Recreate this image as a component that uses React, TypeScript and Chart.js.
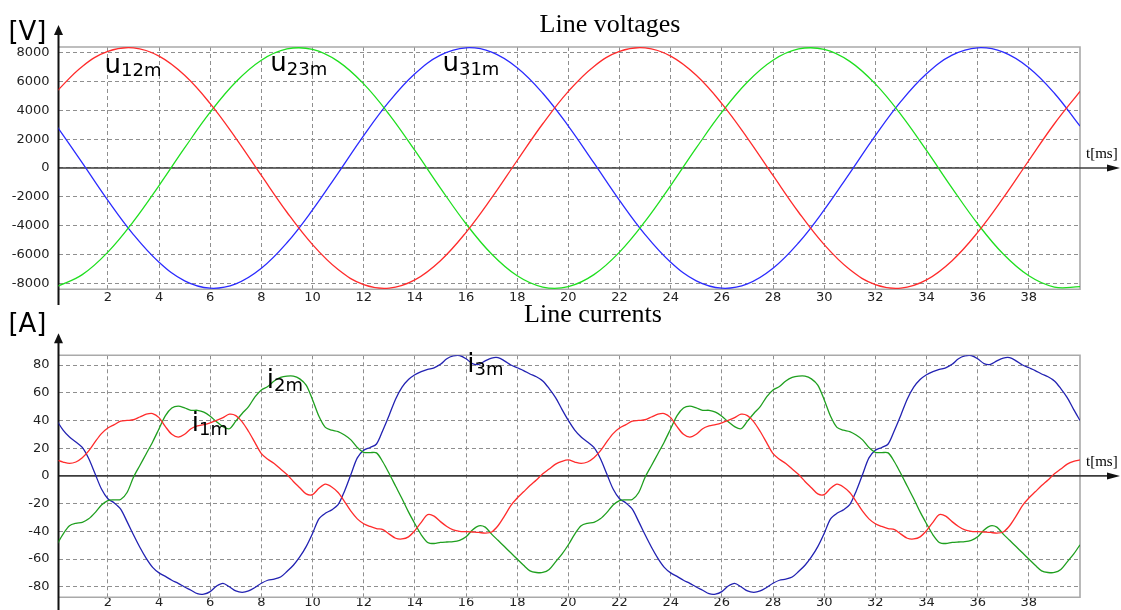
import React, { useEffect, useRef } from "react";
import { Chart, registerables } from "chart.js";

Chart.register(...registerables);

// ---------- data ----------
const T_MIN = 0.07;
const T_MAX = 40;

const voltTimes = [0, 1, 2, 3, 4, 5, 6, 7, 8, 9, 10, 11, 12, 13, 14, 15, 16, 17, 18, 19, 20,
  21, 22, 23, 24, 25, 26, 27, 28, 29, 30, 31, 32, 33, 34, 35, 36, 37, 38, 39, 40];

const u12m = [5320, 7050, 8090, 8330, 7760, 6430, 4470, 2080, -520, -3070,
  -5320, -7050, -8090, -8330, -7760, -6430, -4470, -2080, 520, 3070,
  5320, 7050, 8090, 8330, 7760, 6430, 4470, 2080, -520, -3070,
  -5320, -7050, -8090, -8330, -7760, -6430, -4470, -2080, 520, 3070,
  5320];

const u23m = [-8230, -7400, -5840, -3710, -1220, 1390, 3870, 5970, 7480, 8260,
  8230, 7400, 5840, 3710, 1220, -1390, -3870, -5970, -7480, -8260,
  -8230, -7400, -5840, -3710, -1220, 1390, 3870, 5970, 7480, 8260,
  8230, 7400, 5840, 3710, 1220, -1390, -3870, -5970, -7480, -8260,
  -8230];

const u31m = [2910, 350, -2250, -4620, -6540, -7830, -8340, -8040, -6960, -5190,
  -2910, -350, 2250, 4620, 6540, 7830, 8340, 8040, 6960, 5190,
  2910, 350, -2250, -4620, -6540, -7830, -8340, -8040, -6960, -5190,
  -2910, -350, 2250, 4620, 6540, 7830, 8340, 8040, 6960, 5190,
  2910];

const CUR_STEP = 0.25; // sampling step of the current records [ms]

const i1m = [
  11.5, 10, 9, 10, 13, 18, 24.5, 30.5,
  34.5, 37, 39.5, 40, 40.5, 42.5, 44.5, 45,
  42, 35.5, 30, 28, 30, 34, 36, 37,
  38.3, 40, 42, 44.5, 43.5, 39, 32, 24,
  16, 12, 9, 5, 1, -4, -8.5, -13,
  -13.5, -9, -6, -8, -12, -18.5, -25.5, -31,
  -34.5, -36.5, -38, -38.8, -42, -45, -45.5, -44,
  -39.5, -33.5, -28, -29, -33, -36.5, -39, -40,
  -40.2, -40.5, -40.8, -41.3, -40.5, -36, -29, -21.5,
  -16, -11.5, -7, -3, 1.5, 5, 8.5, 10.5,
  11.5, 10, 9, 10, 13, 18, 24.5, 30.5,
  34.5, 37, 39.5, 40, 40.5, 42.5, 44.5, 45,
  42, 35.5, 30, 28, 30, 34, 36, 37,
  38.3, 40, 42, 44.5, 43.5, 39, 32, 24,
  16, 12, 9, 5, 1, -4, -8.5, -13,
  -13.5, -9, -6, -8, -12, -18.5, -25.5, -31,
  -34.5, -36.5, -38, -38.8, -42, -45, -45.5, -44,
  -39.5, -33.5, -28, -29, -33, -36.5, -39, -40,
  -40.2, -40.5, -40.8, -41.3, -40.5, -36, -29, -21.5,
  -16, -11.5, -7, -3, 1.5, 5, 8.5, 10.5,
  11.5];

const i2m = [
  -49.7, -42, -36, -34.2, -33.5, -31, -26.5, -21,
  -17.8, -17.3, -17, -12, -1, 7.5, 16, 24.5,
  34, 43.5, 49, 50.3, 49, 47.3, 47.3, 46,
  43, 39, 35.5, 34, 39.5, 45, 50, 57,
  62, 64.5, 68.5, 71, 72, 72, 70, 65.5,
  55, 43, 35, 33, 32, 29.5, 26, 20.5,
  17, 16.8, 16.6, 10, 1.5, -7.5, -16.5, -26,
  -34.5, -42.5, -48, -48.8, -48, -47.7, -47.5, -46.5,
  -44, -39, -36, -37, -42, -46.5, -51, -55.5,
  -60, -64.5, -68.5, -69.7, -69.7, -67.5, -62, -56.5,
  -49.7, -42, -36, -34.2, -33.5, -31, -26.5, -21,
  -17.8, -17.3, -17, -12, -1, 7.5, 16, 24.5,
  34, 43.5, 49, 50.3, 49, 47.3, 47.3, 46,
  43, 39, 35.5, 34, 39.5, 45, 50, 57,
  62, 64.5, 68.5, 71, 72, 72, 70, 65.5,
  55, 43, 35, 33, 32, 29.5, 26, 20.5,
  17, 16.8, 16.6, 10, 1.5, -7.5, -16.5, -26,
  -34.5, -42.5, -48, -48.8, -48, -47.7, -47.5, -46.5,
  -44, -39, -36, -37, -42, -46.5, -51, -55.5,
  -60, -64.5, -68.5, -69.7, -69.7, -67.5, -62, -56.5,
  -49.7];

const i3m = [
  40, 33, 28, 24.5, 20.5, 12.5, 1.5, -9.5,
  -16.5, -19.5, -24, -33, -42.5, -51.5, -59.5, -66,
  -70, -72.5, -75.3, -77.5, -80.2, -82.5, -85, -85.3,
  -83.5, -79.5, -77.5, -80, -83, -84, -83, -80.5,
  -77.5, -75.3, -74.5, -73, -69, -64.5, -58.5, -51,
  -41.5, -31, -27, -24.5, -20.8, -11, 1, 13,
  18.5, 20.5, 23, 33, 44, 55.5, 64, 69.5,
  73, 75.2, 76.8, 78, 80.5, 84.5, 86.5, 86.8,
  84.5, 81, 80.5, 83, 85, 85.3, 83, 80,
  78, 76, 73.5, 71.5, 68.5, 63, 56.5, 48,
  40, 33, 28, 24.5, 20.5, 12.5, 1.5, -9.5,
  -16.5, -19.5, -24, -33, -42.5, -51.5, -59.5, -66,
  -70, -72.5, -75.3, -77.5, -80.2, -82.5, -85, -85.3,
  -83.5, -79.5, -77.5, -80, -83, -84, -83, -80.5,
  -77.5, -75.3, -74.5, -73, -69, -64.5, -58.5, -51,
  -41.5, -31, -27, -24.5, -20.8, -11, 1, 13,
  18.5, 20.5, 23, 33, 44, 55.5, 64, 69.5,
  73, 75.2, 76.8, 78, 80.5, 84.5, 86.5, 86.8,
  84.5, 81, 80.5, 83, 85, 85.3, 83, 80,
  78, 76, 73.5, 71.5, 68.5, 63, 56.5, 48,
  40];

const curTimes = i1m.map((_, k) => k * CUR_STEP);

const timeTicks = [2, 4, 6, 8, 10, 12, 14, 16, 18, 20, 22, 24, 26, 28, 30, 32, 34, 36, 38];
const voltTicks = [-8000, -6000, -4000, -2000, 0, 2000, 4000, 6000, 8000];
const currentTicks = [-80, -60, -40, -20, 0, 20, 40, 60, 80];

const voltLabels = [
  { main: "u", sub: "12m", t: 1.87, v: 6610 },
  { main: "u", sub: "23m", t: 8.35, v: 6730 },
  { main: "u", sub: "31m", t: 15.08, v: 6730 },
];
const currentLabels = [
  { main: "i", sub: "1m", t: 5.28, v: 32.2 },
  { main: "i", sub: "2m", t: 8.21, v: 63.7 },
  { main: "i", sub: "3m", t: 16.05, v: 75 },
];

// ---------- plugin ----------
const SANS = '"DejaVu Sans", Verdana, sans-serif';
const SERIF = '"Liberation Serif", "Times New Roman", serif';

const decorPlugin = {
  id: "decor",
  beforeDatasetsDraw(chart: any, _a: any, o: any) {
    const { ctx, chartArea: a, scales } = chart;
    const y0 = scales.y.getPixelForValue(0);
    ctx.save();
    // frame (top, right, bottom)
    ctx.strokeStyle = "#a9a9a9";
    ctx.lineWidth = 1.6;
    ctx.beginPath();
    ctx.moveTo(a.left, a.top);
    ctx.lineTo(a.right, a.top);
    ctx.lineTo(a.right, a.bottom);
    ctx.lineTo(a.left, a.bottom);
    ctx.stroke();
    // horizontal axis with arrow
    ctx.strokeStyle = "#3c3c3c";
    ctx.lineWidth = 1.7;
    ctx.beginPath();
    ctx.moveTo(a.left, y0);
    ctx.lineTo(chart.width - 8, y0);
    ctx.stroke();
    ctx.fillStyle = "#111";
    ctx.beginPath();
    ctx.moveTo(chart.width - 1, y0);
    ctx.lineTo(chart.width - 14, y0 - 3.5);
    ctx.lineTo(chart.width - 14, y0 + 3.5);
    ctx.closePath();
    ctx.fill();
    // vertical axis with arrow
    const tip = a.top - 22;
    ctx.strokeStyle = "#111";
    ctx.lineWidth = 2;
    ctx.beginPath();
    ctx.moveTo(a.left, tip + 6);
    ctx.lineTo(a.left, chart.height);
    ctx.stroke();
    ctx.beginPath();
    ctx.moveTo(a.left, tip);
    ctx.lineTo(a.left - 4.5, tip + 10);
    ctx.lineTo(a.left + 4.5, tip + 10);
    ctx.closePath();
    ctx.fill();
    ctx.restore();
  },
  afterDatasetsDraw(chart: any, _a: any, o: any) {
    const { ctx, chartArea: a, scales } = chart;
    const y0 = scales.y.getPixelForValue(0);
    ctx.save();
    ctx.fillStyle = "#000";
    ctx.textBaseline = "alphabetic";
    // title
    ctx.font = `26px ${SERIF}`;
    ctx.textAlign = "center";
    ctx.fillText(o.title, o.titleX, o.titleY);
    // unit
    ctx.textAlign = "left";
    ctx.font = `26px ${SANS}`;
    ctx.fillText(o.unit, 8.4, o.unitY);
    // t[ms]
    ctx.font = `15px ${SERIF}`;
    ctx.fillText("t[ms]", a.right + 6, y0 - 10);
    // series labels
    for (const l of o.labels) {
      const x = scales.x.getPixelForValue(l.t);
      const y = scales.y.getPixelForValue(l.v);
      ctx.font = `26px ${SANS}`;
      ctx.fillText(l.main, x, y);
      const w = ctx.measureText(l.main).width;
      ctx.font = `18px ${SANS}`;
      ctx.fillText(l.sub, x + w, y + 3.5);
    }
    ctx.restore();
  },
};

function makeConfig(p: any) {
  const tickFont = { family: SANS, size: 13 };
  return {
    type: "line",
    data: {
      datasets: p.series.map((s: any) => ({
        label: s.name,
        data: p.times.map((t: number, k: number) => ({ x: t, y: s.values[k] })),
        borderColor: s.color,
        borderWidth: 1.3,
        pointRadius: 0,
        tension: p.tension,
        fill: false,
      })),
    },
    options: {
      animation: false,
      responsive: false,
      devicePixelRatio: 1,
      layout: { padding: { top: p.padTop, right: 41, left: 0, bottom: 0 } },
      plugins: {
        legend: { display: false },
        tooltip: { enabled: false },
        title: { display: false },
        decor: p.decor,
      },
      scales: {
        x: {
          type: "linear",
          min: T_MIN,
          max: T_MAX,
          bounds: "data",
          afterBuildTicks: (s: any) => {
            s.ticks = timeTicks.map((v) => ({ value: v }));
          },
          afterFit: (s: any) => {
            s.height = p.xHeight;
            s.paddingLeft = 0;
            s.paddingRight = 0;
          },
          grid: { color: "#8f8f8f", lineWidth: 1, drawTicks: false },
          border: { display: false, dash: [4, 3] },
          ticks: {
            padding: p.xPad,
            color: "#222",
            font: tickFont,
            maxRotation: 0,
            autoSkip: false,
            callback: (v: any) => String(v),
          },
        },
        y: {
          type: "linear",
          min: p.yMin,
          max: p.yMax,
          bounds: "data",
          afterBuildTicks: (s: any) => {
            s.ticks = p.yTicks.map((v: number) => ({ value: v }));
          },
          afterFit: (s: any) => {
            s.width = 58.5;
            s.paddingTop = 0;
            s.paddingBottom = 0;
          },
          grid: { color: "#8f8f8f", lineWidth: 1, drawTicks: false },
          border: { display: false, dash: [4, 3] },
          ticks: {
            padding: 9,
            color: "#222",
            font: tickFont,
            autoSkip: false,
            callback: (v: any) => String(v),
          },
        },
      },
    },
    plugins: [decorPlugin],
  } as any;
}

export default function App() {
  const topRef = useRef<HTMLCanvasElement>(null);
  const botRef = useRef<HTMLCanvasElement>(null);

  useEffect(() => {
    const top = new Chart(
      topRef.current as HTMLCanvasElement,
      makeConfig({
        times: voltTimes,
        tension: 0.4,
        series: [
          { name: "u12m", values: u12m, color: "#ff2b2b" },
          { name: "u23m", values: u23m, color: "#1fdf1f" },
          { name: "u31m", values: u31m, color: "#2b2bff" },
        ],
        yMin: -8417,
        yMax: 8396,
        yTicks: voltTicks,
        padTop: 47,
        xHeight: 15.7,
        xPad: 1,
        decor: {
          title: "Line voltages",
          titleX: 610,
          titleY: 31.7,
          unit: "[V]",
          unitY: 39.6,
          labels: voltLabels,
        },
      })
    );
    const bot = new Chart(
      botRef.current as HTMLCanvasElement,
      makeConfig({
        times: curTimes,
        tension: 0.3,
        series: [
          { name: "i1m", values: i1m, color: "#ff2b2b" },
          { name: "i2m", values: i2m, color: "#1f9f1f" },
          { name: "i3m", values: i3m, color: "#2222b2" },
        ],
        yMin: -87.6,
        yMax: 87,
        yTicks: currentTicks,
        padTop: 50.3,
        xHeight: 12.7,
        xPad: -2,
        decor: {
          title: "Line currents",
          titleX: 593,
          titleY: 16.7,
          unit: "[A]",
          unitY: 26.6,
          labels: currentLabels,
        },
      })
    );
    return () => {
      top.destroy();
      bot.destroy();
    };
  }, []);

  return (
    <div style={{ position: "absolute", left: 0, top: 0, width: 1121, height: 610, background: "#fff" }}>
      <canvas ref={topRef} width={1121} height={305} style={{ display: "block", width: 1121, height: 305 }} />
      <canvas ref={botRef} width={1121} height={305} style={{ display: "block", width: 1121, height: 305 }} />
    </div>
  );
}
